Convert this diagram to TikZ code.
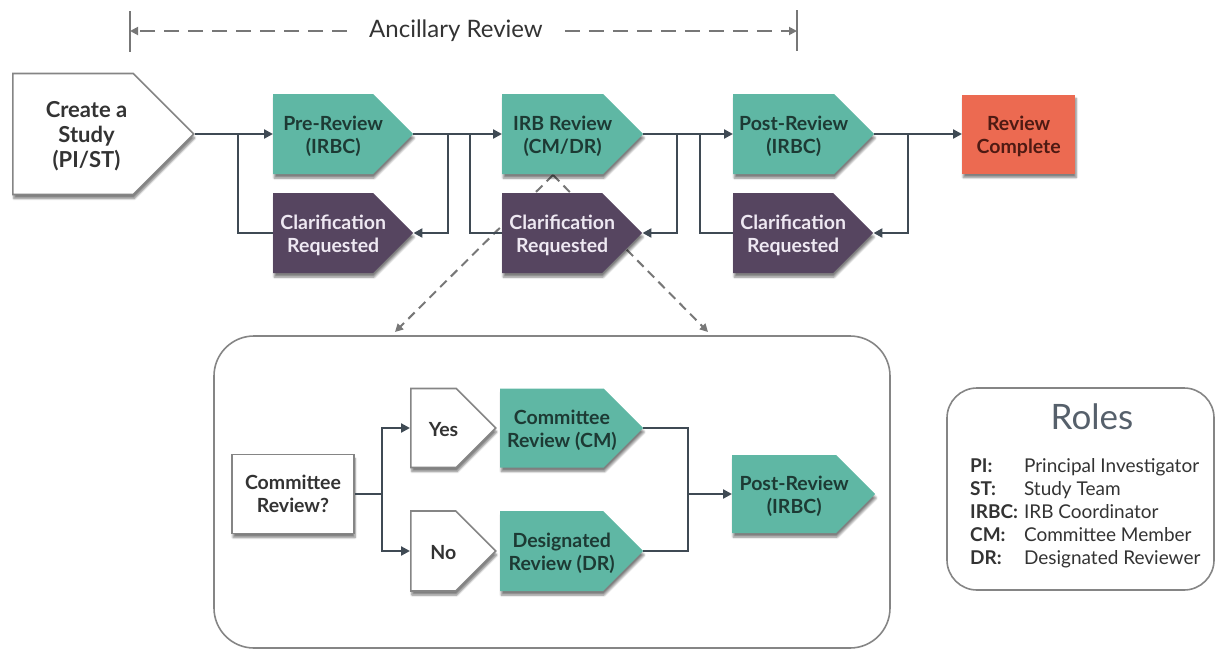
\documentclass[tikz,border=0pt]{standalone}
\usepackage{fontspec}
\setmainfont{Lato}
\usepackage{tikz}
\usetikzlibrary{shapes.symbols, arrows.meta, shadows.blur}

\definecolor{irbteal}{HTML}{5FB7A4}
\definecolor{tealtext}{HTML}{1D3A34}
\definecolor{clarpurple}{HTML}{564560}
\definecolor{purpletext}{HTML}{EEE8F2}
\definecolor{donered}{HTML}{EC6A51}
\definecolor{donetext}{HTML}{4E1A13}
\definecolor{flowgray}{HTML}{3F4A54}
\definecolor{edgegray}{HTML}{858585}
\definecolor{dashgray}{HTML}{777777}
\definecolor{darktext}{HTML}{333333}
\definecolor{roletitle}{HTML}{56606B}

\newcommand\flowfont{\fontsize{19.5}{23}\selectfont\bfseries}
\newcommand\startfont{\fontsize{22}{25}\selectfont\bfseries}
\newcommand\ancfont{\fontsize{24}{28}\selectfont}
\newcommand\rolefont{\fontsize{19}{23}\selectfont}
% text of a signal box sits a little towards its point and may run into it
\newcommand\padtext[2][20pt]{\smash{\makebox[0pt]{\hspace*{#1}\raisebox{-9pt}{\begin{tabular}{@{}c@{}}#2\end{tabular}}}}}

\tikzset{
    conn/.style={draw=flowgray, line width=2.6pt},
    arr/.style={conn, -{Triangle[length=9pt,width=9pt]}},
    shade/.style={blur shadow={shadow xshift=1pt, shadow yshift=-4pt, shadow blur steps=6, shadow opacity=50}},
    sig/.style={signal, signal to=east, signal from=nowhere, anchor=west, inner sep=0pt, shade},
    tealsig/.style={sig, fill=irbteal, text=tealtext, font=\flowfont},
    clarsig/.style={sig, fill=clarpurple, text=purpletext, font=\flowfont, minimum width=140pt, minimum height=80pt},
    whitesig/.style={sig, fill=white, draw=edgegray, line width=1.6pt, text=darktext, font=\flowfont},
    frame/.style={draw=edgegray, line width=1.6pt, rounded corners=40pt},
    subdash/.style={draw=dashgray, line width=2pt, dash pattern=on 9pt off 6pt, -{Triangle[length=8pt,width=8pt]}},
    ancdash/.style={draw=dashgray, line width=1.8pt, dash pattern=on 15pt off 9pt, -{Triangle[length=8pt,width=8pt]}}
}

\begin{document}
\begin{tikzpicture}[x=1pt, y=-1pt]
    \useasboundingbox (0,0) rectangle (1218,651);

    % ancillary span
    \node[font=\ancfont, text=darktext, inner xsep=22pt] (anc) at (456,31) {Ancillary Review};
    \coordinate (ancl) at (130,31);
    \coordinate (ancr) at (797,31);
    \draw[dashgray, line width=1.8pt] (ancl) ++(0,-20) -- ++(0,41);
    \draw[dashgray, line width=1.8pt] (ancr) ++(0,-21) -- ++(0,41);
    \draw[ancdash] (anc.west) -- (ancl);
    \draw[ancdash] (anc.east) -- (ancr);

    % zoom-in lines, behind the boxes
    \coordinate (apex) at (553,175);
    \coordinate (dl) at (395,332);
    \coordinate (dr) at (708,332);
    \draw[subdash] (apex) -- (dl);
    \draw[subdash] (apex) -- (dr);

    \node[whitesig, font=\startfont, minimum width=181pt, minimum height=121pt] (create) at (12,134) {\padtext[27pt]{Create a\\Study\\(PI/ST)}};
    \node[tealsig, minimum width=140pt, minimum height=80pt] (pre) at (273,134) {\padtext{Pre-Review\\(IRBC)}};
    \node[tealsig, minimum width=141pt, minimum height=80pt] (irb) at (502,134) {\padtext{IRB Review\\(CM/DR)}};
    \node[tealsig, minimum width=141pt, minimum height=80pt] (post) at (733,134) {\padtext{Post-Review\\(IRBC)}};
    \node[rectangle, anchor=west, fill=donered, text=donetext, font=\flowfont, minimum width=113pt, minimum height=79pt, shade] (done) at (962,134) {\padtext[0pt]{Review\\Complete}};

    \node[clarsig] (clar1) at (273,233) {\padtext{Clarification\\Requested}};
    \node[clarsig] (clar2) at (502,233) {\padtext{Clarification\\Requested}};
    \node[clarsig] (clar3) at (733,233) {\padtext{Clarification\\Requested}};

    \coordinate (in1) at (238,134);
    \coordinate (out1) at (448,134);
    \coordinate (in2) at (470,134);
    \coordinate (out2) at (677,134);
    \coordinate (in3) at (700,134);
    \coordinate (out3) at (908,134);

    \draw[arr] (create.east) -- (pre.west);
    \draw[arr] (pre.east) -- (irb.west);
    \draw[arr] (irb.east) -- (post.west);
    \draw[arr] (post.east) -- (done.west);

    \draw[conn] (clar1.west) -| (in1);
    \draw[arr] (out1) |- (clar1.east);
    \draw[conn] (clar2.west) -| (in2);
    \draw[arr] (out2) |- (clar2.east);
    \draw[conn] (clar3.west) -| (in3);
    \draw[arr] (out3) |- (clar3.east);

    % committee or designated review
    \draw[frame] (214,336) rectangle (890,648);

    \node[rectangle, fill=white, draw=edgegray, line width=1.6pt, text=darktext, font=\flowfont, align=center, minimum width=122pt, minimum height=79pt, shade] (ask) at (293,494) {Committee\\Review?};
    \node[whitesig, minimum width=85pt, minimum height=79pt] (yes) at (410,428) {\padtext{Yes}};
    \node[whitesig, minimum width=85pt, minimum height=80pt] (no) at (410,551) {\padtext{No}};
    \node[tealsig, minimum width=143pt, minimum height=79pt] (cm) at (500,428) {\padtext{Committee\\Review (CM)}};
    \node[tealsig, minimum width=143pt, minimum height=80pt] (des) at (500,551) {\padtext{Designated\\Review (DR)}};
    \node[tealsig, minimum width=143pt, minimum height=78pt] (post2) at (732,494) {\padtext{Post-Review\\(IRBC)}};

    \coordinate (fork) at (382,494);
    \coordinate (join) at (688,494);
    \draw[conn] (ask.east) -- (fork);
    \draw[arr] (fork) |- (yes.west);
    \draw[arr] (fork) |- (no.west);
    \draw[conn] (cm.east) -| (join) |- (des.east);
    \draw[arr] (join) -- (post2.west);

    % roles legend
    \draw[frame, rounded corners=30pt] (947,388) rectangle (1214,590);
    \node[font=\fontsize{35}{40}\selectfont, text=roletitle] (roles) at (1092,417) {Roles};
    \node[anchor=north west, inner sep=0pt, font=\rolefont, text=darktext] (rolelist) at (970,456) {%
        \begin{tabular}{@{}l@{\hspace{6pt}}l@{}}
        \textbf{PI:} & Principal Investigator\\
        \textbf{ST:} & Study Team\\
        \textbf{IRBC:} & IRB Coordinator\\
        \textbf{CM:} & Committee Member\\
        \textbf{DR:} & Designated Reviewer
        \end{tabular}};
\end{tikzpicture}
\end{document}
